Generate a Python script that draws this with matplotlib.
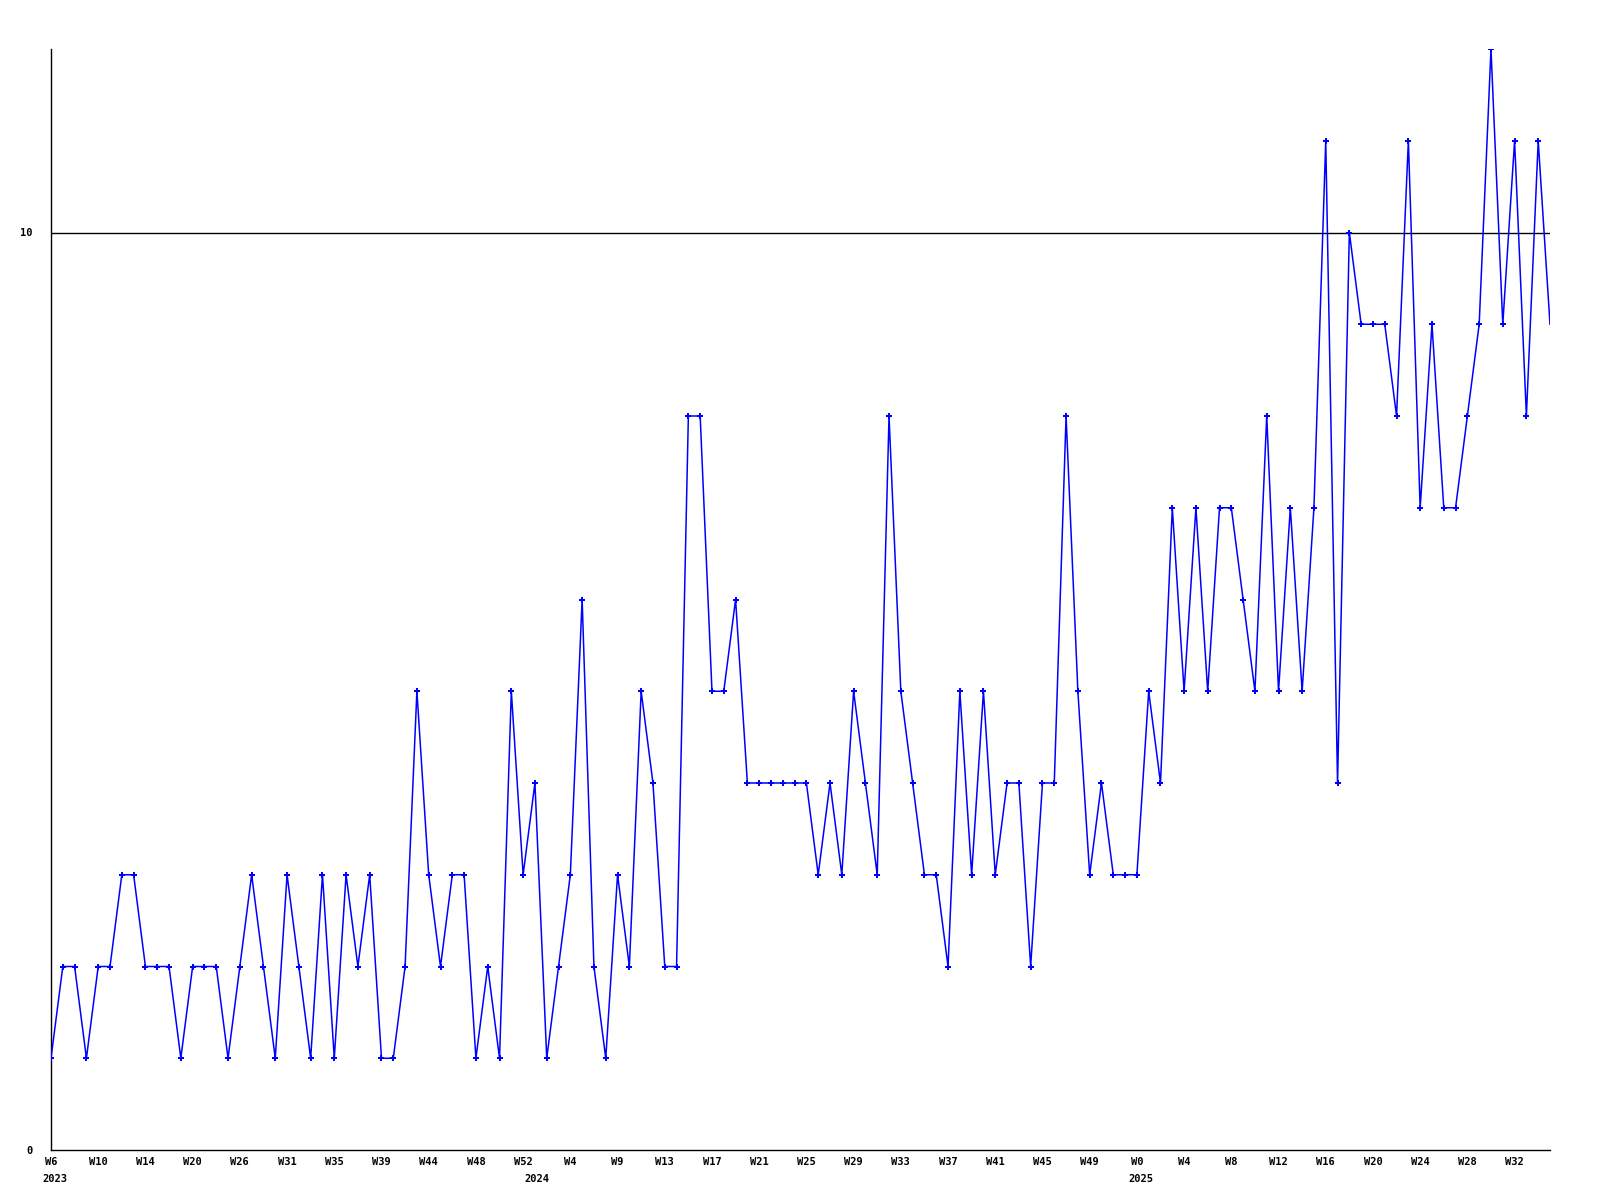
import matplotlib
matplotlib.use('Agg')
import matplotlib.pyplot as plt

# weekly counts, 2023 W6 .. 2025
counts = [1, 2, 2, 1, 2, 2, 3, 3, 2, 2,
          2, 1, 2, 2, 2, 1, 2, 3, 2, 1,
          3, 2, 1, 3, 1, 3, 2, 3, 1, 1,
          2, 5, 3, 2, 3, 3, 1, 2, 1, 5,
          3, 4, 1, 2, 3, 6, 2, 1, 3, 2,
          5, 4, 2, 2, 8, 8, 5, 5, 6, 4,
          4, 4, 4, 4, 4, 3, 4, 3, 5, 4,
          3, 8, 5, 4, 3, 3, 2, 5, 3, 5,
          3, 4, 4, 2, 4, 4, 8, 5, 3, 4,
          3, 3, 3, 5, 4, 7, 5, 7, 5, 7,
          7, 6, 5, 8, 5, 7, 5, 7, 11, 4,
          10, 9, 9, 9, 8, 11, 7, 9, 7, 7,
          8, 9, 12, 9, 11, 8, 11, 9]

week_labels = ['W6', 'W10', 'W14', 'W20', 'W26', 'W31', 'W35', 'W39', 'W44',
               'W48', 'W52', 'W4', 'W9', 'W13', 'W17', 'W21', 'W25', 'W29',
               'W33', 'W37', 'W41', 'W45', 'W49', 'W0', 'W4', 'W8', 'W12',
               'W16', 'W20', 'W24', 'W28', 'W32']
label_step = 4

years = ['2023', '2024', '2025']
year_idx = [0.3, 41.2, 92.3]

y_ticks = [0, 10]
ref_line = 10

FONT = dict(family='DejaVu Sans Mono', weight='bold', size=7.5)

fig = plt.figure(figsize=(16, 12), dpi=100)
ax = fig.add_axes([51 / 1600, 50 / 1200, 1499 / 1600, 1101 / 1200])

x = list(range(len(counts)))
ax.axhline(ref_line, color='black', lw=1, zorder=1)
ax.plot(x, counts, color='#0000ff', lw=1.1, marker='P', ms=4.5, mew=0,
        markevery=slice(0, len(counts) - 1), zorder=3)

ax.set_xlim(0, len(counts) - 1)
ax.set_ylim(0, 12)

for s in ['top', 'right']:
    ax.spines[s].set_visible(False)
for s in ['left', 'bottom']:
    ax.spines[s].set_linewidth(1)
    ax.spines[s].set_color('black')

ax.set_yticks(y_ticks)
ax.set_yticklabels([str(v) for v in y_ticks], **FONT)
ax.tick_params(axis='y', length=0, pad=13)

ax.set_xticks([i * label_step for i in range(len(week_labels))])
ax.set_xticklabels(week_labels, **FONT)
ax.tick_params(axis='x', length=0, pad=5)

for yr, i in zip(years, year_idx):
    ax.annotate(yr, xy=(i, 0), xycoords=('data', 'axes fraction'),
                xytext=(0, -17), textcoords='offset points',
                ha='center', va='top', **FONT)

fig.savefig('out.png', dpi=100)
